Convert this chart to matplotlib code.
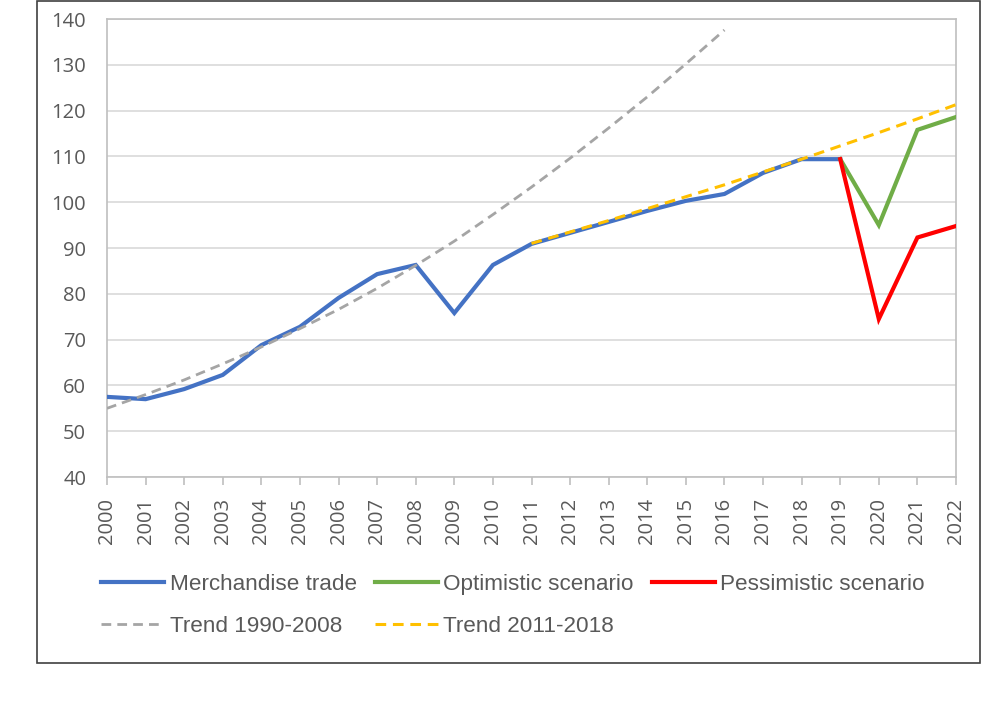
import numpy as np
import matplotlib
matplotlib.use("Agg")
from matplotlib import pyplot as plt
from matplotlib.patches import Rectangle

years = list(range(2000, 2023))

trade_years = list(range(2000, 2020))
trade = [57.5, 57.0, 59.2, 62.3, 68.8, 72.8, 79.1, 84.3, 86.3, 75.8,
         86.3, 90.9, 93.3, 95.7, 98.1, 100.3, 101.8, 106.4, 109.4, 109.4]

scen_years = [2019, 2020, 2021, 2022]
optimistic = [109.4, 95.0, 115.8, 118.6]
pessimistic = [109.4, 74.5, 92.3, 94.8]

trend1_years = list(range(2000, 2017))
trend1 = [55.0, 58.0, 61.2, 64.7, 68.4, 72.4, 76.6, 81.2, 86.2, 91.5,
          97.3, 103.3, 109.6, 116.2, 123.0, 130.2, 137.6]

trend2_years = list(range(2011, 2023))
trend2 = [91.0, 93.5, 96.0, 98.6, 101.2, 103.8, 106.6, 109.4, 112.3, 115.2, 118.2, 121.3]

tick_color = '#595959'
grid_color = '#D9D9D9'

fig = plt.figure(figsize=(10, 7.04), dpi=100)
ax = fig.add_axes([0.107, 0.3224, 0.849, 0.6506])

l_trade, = ax.plot(trade_years, trade, color='#4472C4', lw=3.0, label='Merchandise trade',
                   solid_joinstyle='miter', zorder=3)
l_opt, = ax.plot(scen_years, optimistic, color='#70AD47', lw=3.0, label='Optimistic scenario',
                 solid_joinstyle='miter', zorder=3)
l_pes, = ax.plot(scen_years, pessimistic, color='#FF0000', lw=3.0, label='Pessimistic scenario',
                 solid_joinstyle='miter', zorder=4)
l_t1, = ax.plot(trend1_years, trend1, color='#A5A5A5', lw=2.0, ls=(0, (3.5, 2.2)),
                label='Trend 1990-2008', zorder=5)
l_t2, = ax.plot(trend2_years, trend2, color='#FFC000', lw=2.2, ls=(0, (3.5, 2.2)),
                label='Trend 2011-2018', zorder=6)

ax.set_xlim(2000, 2022)
ax.set_ylim(40, 140)
ax.set_yticks(range(40, 141, 10))
ax.set_xticks(years)
ax.set_xticklabels([str(y) for y in years], rotation=90)
ax.grid(axis='y', color=grid_color, lw=1.2)
ax.set_axisbelow(True)
for s in ax.spines.values():
    s.set_color('#BFBFBF')
    s.set_linewidth(1.2)
ax.tick_params(axis='y', length=0, pad=15, labelsize=14.5, labelcolor=tick_color)
ax.tick_params(axis='x', length=6, color='#BFBFBF', width=1.2, pad=9, labelsize=14.5,
               labelcolor=tick_color)
for lab in ax.get_xticklabels() + ax.get_yticklabels():
    lab.set_family(['Open Sans', 'DejaVu Sans'])

handles = [l_trade, l_t1, l_opt, l_t2, l_pes]
leg = fig.legend(handles=handles, ncol=3, loc='upper left', bbox_to_anchor=(0.092, 0.198),
                 frameon=False, handlelength=2.8, handletextpad=0.25, columnspacing=0.8,
                 labelspacing=0.95, borderaxespad=0,
                 prop={'family': ['Liberation Sans', 'DejaVu Sans'], 'size': 16.2})
for t in leg.get_texts():
    t.set_color(tick_color)

# outer frame around the chart
fig.patches.append(Rectangle((0.037, 0.058), 0.943, 0.94, transform=fig.transFigure,
                             fill=False, edgecolor='#404040', lw=1.2))

fig.savefig('out.png', dpi=100)
